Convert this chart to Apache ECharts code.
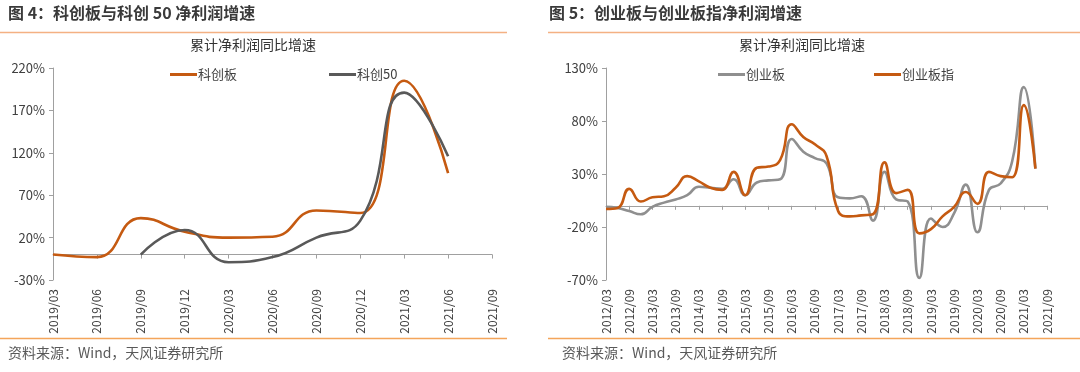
<!DOCTYPE html>
<html><head><meta charset="utf-8">
<script src="https://cdn.jsdelivr.net/npm/echarts@6/dist/echarts.min.js"></script>
<style>html,body{margin:0;padding:0;background:#fff}#c{width:1080px;height:372px}</style>
</head><body><div id="c"></div>
<script>
// ---- Left chart data (科创板 / 科创50) ----
const leftCategories = ['2019/03','2019/06','2019/09','2019/12','2020/03','2020/06','2020/09','2020/12','2021/03','2021/06','2021/09'];
const kcbValues  = [0, -3, 43, 27, 20, 21, 52, 49, 205, 96, null];
const kc50Values = [null, null, 0, 29, -9, -3, 20, 40, 191, 116, null];
const leftYTicks = [-30, 20, 70, 120, 170, 220];

// ---- Right chart data (创业板 / 创业板指) ----
const rightCategories = ['2012/03','2012/06','2012/09','2012/12','2013/03','2013/06','2013/09','2013/12',
  '2014/03','2014/06','2014/09','2014/12','2015/03','2015/06','2015/09','2015/12',
  '2016/03','2016/06','2016/09','2016/12','2017/03','2017/06','2017/09','2017/12',
  '2018/03','2018/06','2018/09','2018/12','2019/03','2019/06','2019/09','2019/12',
  '2020/03','2020/06','2020/09','2020/12','2021/03','2021/06','2021/09'];
const cybValues  = [-1,-2,-5,-8,-1,3,6,10,18,17,16,25,10,22,24,25,63,51,45,40,8,7,9,-14,32,6,4,-68,-12,-20,-7,20,-25,15,21,42,112,35];
const cybzValues = [-3,-2,16,4,8,9,17,28,23,17,15,32,10,36,37,43,77,65,58,47,-5,-10,-9,-8,41,12,15,-26,-22,-10,-1,13,2,32,28,27,95,35];
const rightYTicks = [-70, -20, 30, 80, 130];

const ORANGE = '#C55A11', DARKGRAY = '#595959', GRAY = '#8F8F8F', AXIS = '#A0A0A0';
const FONT = '"Noto Sans CJK SC", "Noto Sans", sans-serif';
const TXT = '#404040';

function xAxes(cats, gridIndex, labelInterval) {
  return [
    { type:'category', data:cats, gridIndex, boundaryGap:false,
      axisLine:{show:true, onZero:true, lineStyle:{color:AXIS, width:1}},
      axisTick:{show:true, inside:false, length:4, interval:labelInterval, lineStyle:{color:AXIS}},
      axisLabel:{show:false}, splitLine:{show:false} },
    { type:'category', data:cats, gridIndex, boundaryGap:false, position:'bottom',
      axisLine:{show:false, onZero:false}, axisTick:{show:false}, splitLine:{show:false},
      axisLabel:{show:true, rotate:90, interval:labelInterval, margin:9, fontSize:12, color:TXT, fontFamily:FONT} }
  ];
}
function yAxis(ticks, gridIndex) {
  return { type:'value', gridIndex, min:ticks[0], max:ticks[ticks.length-1], interval:ticks[1]-ticks[0],
    axisLine:{show:true, lineStyle:{color:AXIS, width:1}},
    axisTick:{show:true, length:4, lineStyle:{color:AXIS}},
    splitLine:{show:false},
    axisLabel:{formatter:'{value}%', fontSize:13, color:TXT, margin:8, fontFamily:FONT} };
}
function lineSeries(name, data, color, xi, yi) {
  return { name, type:'line', data, xAxisIndex:xi, yAxisIndex:yi, smooth:0.5, showSymbol:false, symbol:'none',
    connectNulls:false, lineStyle:{color, width:2.6}, itemStyle:{color}, z:3 };
}

const chart = echarts.init(document.getElementById('c'));
chart.setOption({
  animation:false,
  backgroundColor:'#fff',
  grid:[
    {left:53, top:68, width:439, height:212},
    {left:606, top:68, width:441, height:212}
  ],
  xAxis:[...xAxes(leftCategories, 0, 0), ...xAxes(rightCategories, 1, 1)],
  yAxis:[yAxis(leftYTicks, 0), yAxis(rightYTicks, 1)],
  legend:[
    {data:[{name:'科创板', icon:'rect'},{name:'科创50', icon:'rect'}], left:165, top:63, itemWidth:27, itemHeight:3, itemGap:92,
     textStyle:{fontSize:13, color:TXT, fontFamily:FONT, padding:[0,0,0,-4]}},
    {data:[{name:'创业板', icon:'rect'},{name:'创业板指', icon:'rect'}], left:713, top:63, itemWidth:27, itemHeight:3, itemGap:89,
     textStyle:{fontSize:13, color:TXT, fontFamily:FONT, padding:[0,0,0,-4]}}
  ],
  series:[
    lineSeries('科创板', kcbValues, ORANGE, 0, 0),
    lineSeries('科创50', kc50Values, DARKGRAY, 0, 0),
    lineSeries('创业板', cybValues, GRAY, 2, 1),
    lineSeries('创业板指', cybzValues, ORANGE, 2, 1)
  ],
  graphic:[
    {type:'text', left:8, top:5, style:{text:'图 4：科创板与科创 50 净利润增速', fontSize:16, fontWeight:'bold', fill:'#3a3a3a', fontFamily:FONT}},
    {type:'text', left:549, top:5, style:{text:'图 5：创业板与创业板指净利润增速', fontSize:16, fontWeight:'bold', fill:'#3a3a3a', fontFamily:FONT}},
    {type:'line', shape:{x1:0, y1:32.5, x2:507, y2:32.5}, style:{stroke:'#F4B183', lineWidth:1.5}},
    {type:'line', shape:{x1:548, y1:32.5, x2:1080, y2:32.5}, style:{stroke:'#F4B183', lineWidth:1.5}},
    {type:'text', x:253, y:45, style:{text:'累计净利润同比增速', fontSize:14, fill:'#333', fontFamily:FONT, textAlign:'center', textVerticalAlign:'middle'}},
    {type:'text', x:802, y:45, style:{text:'累计净利润同比增速', fontSize:14, fill:'#333', fontFamily:FONT, textAlign:'center', textVerticalAlign:'middle'}},
    {type:'line', shape:{x1:0, y1:338.5, x2:507, y2:338.5}, style:{stroke:'#F4A55A', lineWidth:1.5}},
    {type:'line', shape:{x1:548, y1:338.5, x2:1080, y2:338.5}, style:{stroke:'#F4A55A', lineWidth:1.5}},
    {type:'text', x:8, y:353, style:{text:'资料来源：Wind，天风证券研究所', fontSize:14, fill:'#595959', fontFamily:FONT, textVerticalAlign:'middle'}},
    {type:'text', x:562, y:353, style:{text:'资料来源：Wind，天风证券研究所', fontSize:14, fill:'#595959', fontFamily:FONT, textVerticalAlign:'middle'}}
  ]
});
</script></body></html>
